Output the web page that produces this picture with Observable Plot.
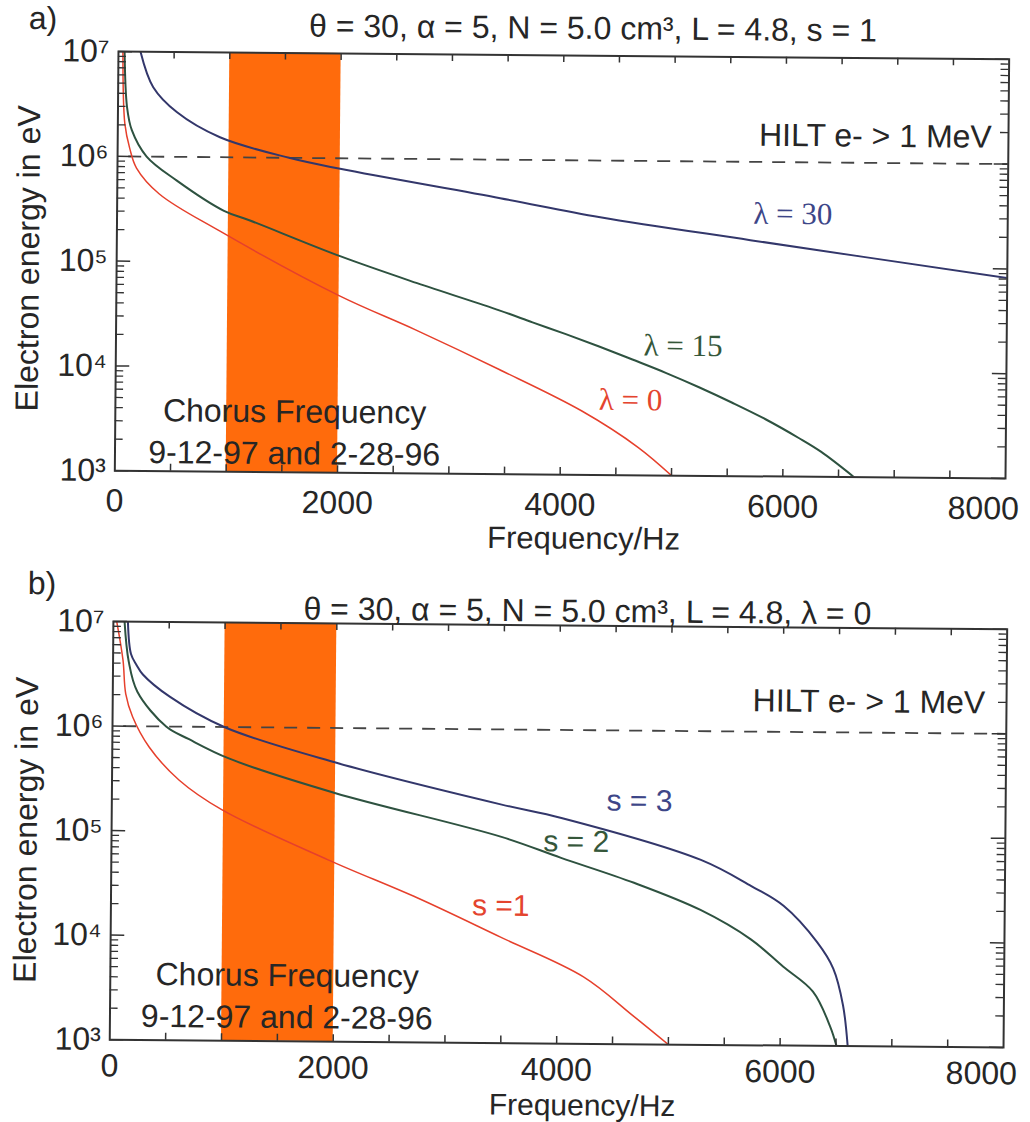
<!DOCTYPE html>
<html>
<head>
<meta charset="utf-8">
<script src="https://cdn.jsdelivr.net/npm/d3@7"></script>
<script src="https://cdn.jsdelivr.net/npm/@observablehq/plot@0.6"></script>
<style>
  body { margin: 0; background: #fff; overflow: hidden; }
  #chart svg { display: block; transform: rotate(0.5deg); }
</style>
</head>
<body>
<div id="chart"></div>
<script>
// ---------- axes / ticks ----------
const xDomain = [0, 8000];
const yDomain = [1e3, 1e7];
const xTicks = [0, 2000, 4000, 6000];
const xLastTick = [8000];
const xMinorTicks = [500, 1000, 1500, 2000, 2500, 3000, 3500, 4000, 4500, 5000, 5500, 6000, 6500, 7000, 7500];
const yMajorTicks = [1e3, 1e4, 1e5, 1e6, 1e7];
const yMinorTicks = [1e3, 1e4, 1e5, 1e6].flatMap(d => [2, 3, 4, 5, 6, 7, 8, 9].map(k => k * d));
const supDigits = {"3": "³", "4": "⁴", "5": "⁵", "6": "⁶", "7": "⁷"};

// ---------- shared annotations ----------
const chorusBand = [1000, 2000];           // Hz
const hiltEnergy = 1e6;                     // eV
const hiltRange = [100, 8000];              // Hz
const chorusText = "Chorus Frequency\n9-12-97 and 2-28-96";
const hiltText = "HILT e- > 1 MeV";

// ---------- panel a : s = 1, varying latitude ----------
const titleA = "θ = 30, α = 5, N = 5.0 cm³, L = 4.8, s = 1";
const freqA_L30   = [198, 315, 531, 918, 1540, 2000, 3440, 4340, 5690, 8000];
const energyA_L30 = [1.0e7, 4.60e6, 2.66e6, 1.55e6, 1.0e6, 7.93e5, 4.29e5, 2.88e5, 1.79e5, 8.2e4];
const freqA_L15   = [55, 81, 126, 261, 531, 960, 1188, 2000, 2700, 3440, 3740, 4040, 4340, 4640, 4940, 5240, 5540, 5840, 6140, 6340, 6640];
const energyA_L15 = [1.0e7, 2.96e6, 1.78e6, 1.0e6, 5.96e5, 3.08e5, 2.52e5, 1.17e5, 6.53e4, 3.65e4, 2.82e4, 2.19e4, 1.68e4, 1.27e4, 9.55e3, 7.0e3, 5.01e3, 3.51e3, 2.34e3, 1.74e3, 1.0e3];
const freqA_L0    = [40, 63, 108, 171, 378, 918, 2000, 2690, 3440, 4190, 4700, 5000];
const energyA_L0  = [1.0e7, 2.04e6, 1.2e6, 7.76e5, 4.41e5, 1.99e5, 4.89e4, 2.34e4, 1.0e4, 4.06e3, 1.84e3, 1.0e3];
const labelsA = ["λ = 30", "λ = 15", "λ = 0"];
const labelFreqA = [6070, 5094, 4626];
const labelEnergyA = [3.2e5, 1.73e4, 5.2e3];

// ---------- panel b : λ = 0, varying harmonic ----------
const titleB = "θ = 30, α = 5, N = 5.0 cm³, L = 4.8, λ = 0";
const freqB_S3   = [130, 160, 210, 268, 510, 1000, 2000, 3490, 4025, 5277, 5730, 6020, 6325, 6470, 6560, 6605];
const energyB_S3 = [1.0e7, 4.9e6, 3.86e6, 3.13e6, 1.93e6, 1.0e6, 4.67e5, 1.91e5, 1.44e5, 5.87e4, 3.33e4, 2.17e4, 9.75e3, 5.5e3, 2.46e3, 1.0e3];
const freqB_S2   = [100, 140, 220, 480, 686, 1044, 1995, 3490, 4025, 4680, 5277, 5730, 6020, 6290, 6445, 6505];
const energyB_S2 = [1.0e7, 4.17e6, 2.14e6, 1.0e6, 7.59e5, 5.01e5, 2.39e5, 9.38e4, 5.98e4, 3.5e4, 1.95e4, 1.03e4, 5.7e3, 3.3e3, 1.55e3, 1.0e3];
const freqB_S1   = [30, 89, 116, 179, 331, 599, 984, 1940, 2745, 3490, 4235, 4680, 5000];
const energyB_S1 = [1.0e7, 4.27e6, 2.04e6, 1.23e6, 6.31e5, 3.09e5, 1.62e5, 5.47e4, 2.4e4, 1.03e4, 4.37e3, 1.88e3, 1.0e3];
const labelsB = ["s = 3", "s = 2", "s =1"];
const labelFreqB = [4723, 4160, 3490];
const labelEnergyB = [2.11e5, 8.5e4, 2.05e4];

// ---------- styling ----------
const COL_BLUE = "#33376b", COL_GREEN = "#2e5240", COL_RED = "#e6402c";
const TXT_BLUE = "#3d4688", TXT_GREEN = "#35573a", TXT_RED = "#e4442e";
const ORANGE = "#ff6b0c", INK = "#262626", AXIS = "#333";
const SANS = "'Liberation Sans', Arial, Helvetica, sans-serif";
const SERIF = "'Liberation Serif', 'Times New Roman', serif";
const Y_TICK_MINOR_HZ = 72, Y_TICK_MAJOR_HZ = 126, X_TICK_FACTOR = 1.166;

const toPts = (fs, es) => fs.map((f, i) => ({f, e: es[i]}));
const supFmt = d => "10" + supDigits[String(Math.round(Math.log10(d)))];

function panel(cfg) {
  const lineMarks = cfg.series.map(s =>
    Plot.line(toPts(s.f, s.e), {x: "f", y: "e", stroke: s.color, strokeWidth: s.width, curve: "catmull-rom", clip: true})
  );
  const labelData = cfg.labels.map((t, i) => ({t, f: cfg.labelF[i], e: cfg.labelE[i], c: cfg.labelC[i]}));
  const [x0, x1] = xDomain, [y0, y1] = yDomain;
  return Plot.plot({
    width: 1030,
    height: 561,
    marginTop: cfg.mt, marginBottom: cfg.mb, marginLeft: cfg.ml, marginRight: cfg.mr,
    style: {fontFamily: SANS, fontSize: "32px", color: INK, background: "#fff"},
    x: {domain: xDomain},
    y: {type: "log", domain: yDomain},
    marks: [
      Plot.rect([chorusBand], {x1: d => d[0], x2: d => d[1], fill: ORANGE}),
      Plot.ruleY([hiltEnergy], {x1: hiltRange[0], x2: hiltRange[1], stroke: "#444", strokeWidth: 1.8, strokeDasharray: "13,10"}),
      ...lineMarks,
      Plot.text([cfg.chorusText], {x: cfg.chorusF, y: cfg.chorusE, text: d => d, fontSize: 32, lineHeight: 1.31, fill: INK}),
      Plot.text([hiltText], {x: cfg.hiltF, y: cfg.hiltE, text: d => d, textAnchor: "end", fontSize: 32, fill: INK}),
      Plot.text(labelData, {x: "f", y: "e", text: "t", fill: d => d.c, fontSize: cfg.labelSize, fontFamily: cfg.labelFont}),
      // inward ticks
      Plot.ruleY(yMinorTicks, {y: d => d, x1: x0, x2: x0 + Y_TICK_MINOR_HZ, stroke: AXIS, strokeWidth: 1.3}),
      Plot.ruleY(yMinorTicks, {y: d => d, x1: x1 - Y_TICK_MINOR_HZ, x2: x1, stroke: AXIS, strokeWidth: 1.3}),
      Plot.ruleY(yMajorTicks, {y: d => d, x1: x0, x2: x0 + Y_TICK_MAJOR_HZ, stroke: AXIS, strokeWidth: 1.5}),
      Plot.ruleY(yMajorTicks, {y: d => d, x1: x1 - Y_TICK_MAJOR_HZ, x2: x1, stroke: AXIS, strokeWidth: 1.5}),
      Plot.ruleX(xMinorTicks, {x: d => d, y1: y0, y2: y0 * X_TICK_FACTOR, stroke: AXIS, strokeWidth: 1.5}),
      Plot.ruleX(xMinorTicks, {x: d => d, y1: y1 / X_TICK_FACTOR, y2: y1, stroke: AXIS, strokeWidth: 1.5}),
      Plot.frame({stroke: AXIS, strokeWidth: 2}),
      // tick labels
      Plot.axisX(xTicks, {anchor: "bottom", tickSize: 0, tickPadding: cfg.xPad, tickFormat: d => String(d), label: null, fill: INK}),
      Plot.axisX(xLastTick, {anchor: "bottom", tickSize: 0, tickPadding: cfg.xPad, dx: -22, tickFormat: d => String(d), label: null, fill: INK}),
      Plot.axisY(yMajorTicks, {anchor: "left", tickSize: 0, tickPadding: 9, tickFormat: supFmt, label: null, fill: INK}),
      // titles & axis labels
      Plot.text([cfg.title], {frameAnchor: "top", lineAnchor: "middle", dx: cfg.titleDx, dy: cfg.titleDy, text: d => d, fontSize: 32, fill: INK}),
      Plot.text([cfg.tag], {frameAnchor: "top-left", textAnchor: "start", lineAnchor: "middle", dx: cfg.tagDx, dy: cfg.tagDy, text: d => d, fontSize: 32, fill: INK}),
      Plot.text(["Frequency/Hz"], {frameAnchor: "bottom", lineAnchor: "middle", dx: cfg.xlabDx, dy: cfg.xlabDy, text: d => d, fontSize: cfg.xlabSize, fill: INK}),
      Plot.text(["Electron energy in eV"], {frameAnchor: "left", textAnchor: "middle", lineAnchor: "middle", dx: cfg.ylabDx, dy: cfg.ylabDy, rotate: -90, text: d => d, fontSize: 32, fill: INK})
    ]
  });
}

const chart = document.getElementById("chart");

chart.append(panel({
  mt: 54.5, mb: 87.3, ml: 116, mr: 23.3,
  series: [
    {f: freqA_L30, e: energyA_L30, color: COL_BLUE, width: 2},
    {f: freqA_L15, e: energyA_L15, color: COL_GREEN, width: 2},
    {f: freqA_L0, e: energyA_L0, color: COL_RED, width: 1.5}
  ],
  labels: labelsA, labelF: labelFreqA, labelE: labelEnergyA, labelC: [TXT_BLUE, TXT_GREEN, TXT_RED],
  labelSize: 31, labelFont: SERIF,
  chorusText, chorusF: 1610, chorusE: 2.54e3,
  hiltF: 7850, hiltE: 1.79e6,
  title: titleA, titleDx: 29, titleDy: -27,
  tag: "a)", tagDx: -90, tagDy: -32,
  xPad: 18,
  xlabDx: 24, xlabDy: 64, xlabSize: 31, ylabDx: -88, ylabDy: -2
}));

chart.append(panel({
  mt: 63.5, mb: 79.3, ml: 111, mr: 25.2,
  series: [
    {f: freqB_S3, e: energyB_S3, color: COL_BLUE, width: 2},
    {f: freqB_S2, e: energyB_S2, color: COL_GREEN, width: 2},
    {f: freqB_S1, e: energyB_S1, color: COL_RED, width: 1.5}
  ],
  labels: labelsB, labelF: labelFreqB, labelE: labelEnergyB, labelC: [TXT_BLUE, TXT_GREEN, TXT_RED],
  labelSize: 30, labelFont: SANS,
  chorusText, chorusF: 1583, chorusE: 2.85e3,
  hiltF: 7810, hiltE: 1.96e6,
  title: titleB, titleDx: 27, titleDy: -14,
  tag: "b)", tagDx: -86, tagDy: -37,
  xPad: 14,
  xlabDx: 26, xlabDy: 62, xlabSize: 30, ylabDx: -85, ylabDy: 0
}));
</script>
</body>
</html>
